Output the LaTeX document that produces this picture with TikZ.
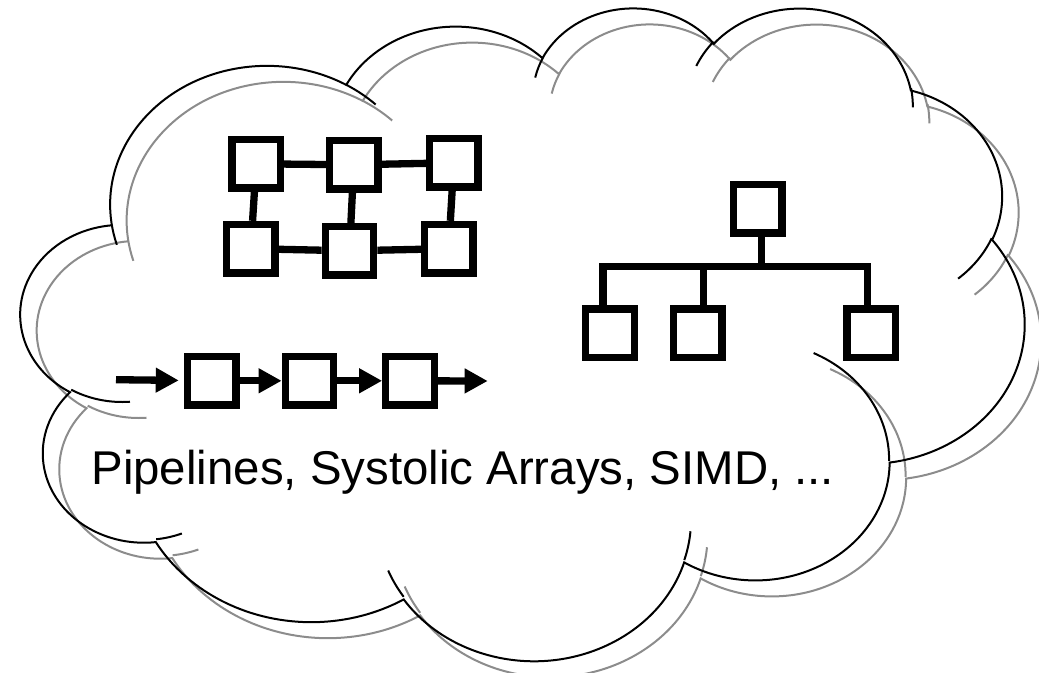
\documentclass[tikz,border=0pt]{standalone}
\usepackage{fontspec}
\usepackage{xcolor}
\usepackage{tikz}
\usetikzlibrary{arrows.meta}
\newfontfamily\labelfont{Liberation Sans}
\definecolor{blackmain}{HTML}{000000}
\definecolor{shadowgray}{HTML}{8C8C8C}
\tikzset{
  pe/.style={draw=blackmain,line width=3.65pt,minimum size=24.2pt,inner sep=0pt},
  wire/.style={blackmain,line width=3.65pt},
  pipe/.style={blackmain,line width=3.65pt,-{Triangle[length=11.5pt,width=11.75pt]}}
}
% one PowerPoint arcTo: x radius, y radius, start angle, sweep (path units)
\newcommand\cloudarc[4]{arc[x radius=#1,y radius=#2,
  start angle={atan2(#1*sin(#3),#2*cos(#3))},
  delta angle={Mod(atan2(#1*sin(#3+#4),#2*cos(#3+#4))-atan2(#1*sin(#3),#2*cos(#3))+180,360)-180}]}
\newcommand\cloudpath{%
  (3900,14370) \cloudarc{6753}{9190}{-190.487}{123.781}
  \cloudarc{5333}{7267}{-144.102}{89.945}
  \cloudarc{4365}{5945}{-145.808}{99.723}
  \cloudarc{4857}{6595}{-130.986}{117.242}
  \cloudarc{5333}{7273}{-78.709}{109.027}
  \cloudarc{6775}{9220}{-46.267}{130.269}
  \cloudarc{5785}{7867}{0.625}{114.033}
  \cloudarc{6752}{9215}{22.452}{115.173}
  \cloudarc{7720}{10543}{66.243}{75.711}
  \cloudarc{4360}{5918}{85.058}{146.736}
  \cloudarc{4345}{5945}{113.171}{152.519}
  (4693,26177) \cloudarc{4345}{5945}{86.742}{26.430}
  (6928,34899) \cloudarc{4360}{5918}{73.603}{11.455}
  (16478,39090) \cloudarc{6752}{9215}{137.624}{14.081}
  (28827,34751) \cloudarc{6752}{9215}{6.453}{15.998}
  (34129,22954) \cloudarc{5785}{7867}{-70.292}{70.917}
  (41798,15354) \cloudarc{5333}{7273}{30.318}{27.752}
  (38324,5426) \cloudarc{4857}{6595}{-13.744}{14.864}
  (29078,3952) \cloudarc{4857}{6595}{-149.181}{18.185}
  (22141,4720) \cloudarc{4365}{5945}{-163.494}{17.618}
  (14000,5192) \cloudarc{6753}{9190}{-66.707}{12.0}
  (4127,15789) \cloudarc{6753}{9190}{-202.35}{11.86}}
\begin{document}
\begin{tikzpicture}[x=0.5pt,y=-0.5pt]
  \useasboundingbox (0,0) rectangle (1039,673);
  % cloud: shadow first, outline on top, both in 43200-unit shape space
  \begin{scope}[shift={(37.5,22.3)},x=0.011618pt,y=-0.0075579pt]
    \draw[shadowgray,line width=1pt] \cloudpath;
  \end{scope}
  \begin{scope}[shift={(21,6.3)},x=0.011618pt,y=-0.0075579pt]
    \draw[blackmain,line width=1pt] \cloudpath;
  \end{scope}

  % mesh
  \node[pe] (m1) at (256.2,163.8) {};
  \node[pe] (m2) at (353.8,164.8) {};
  \node[pe] (m3) at (453.8,162.8) {};
  \node[pe] (m4) at (250.8,248.7) {};
  \node[pe] (m5) at (349.5,250.8) {};
  \node[pe] (m6) at (448.7,248.7) {};
  \draw[wire] (m1)--(m2); \draw[wire] (m2)--(m3);
  \draw[wire] (m4)--(m5); \draw[wire] (m5)--(m6);
  \draw[wire] (m1)--(m4); \draw[wire] (m2)--(m5); \draw[wire] (m3)--(m6);

  % tree
  \node[pe] (root) at (757.8,208.8) {};
  \node[pe] (leaf1) at (610,333.3) {};
  \node[pe] (leaf2) at (697.8,333.3) {};
  \node[pe] (leaf3) at (871.3,333.3) {};
  \coordinate (busT) at (761.3,266.3);
  \coordinate (busL) at (603,266.3);
  \coordinate (busM) at (703.3,266.3);
  \coordinate (busR) at (867.2,266.3);
  \draw[wire,line cap=rect] (busL)--(busR);
  \draw[wire] (busT |- root.south)--(busT);
  \draw[wire] (busL)--(busL |- leaf1.north);
  \draw[wire] (busM)--(busM |- leaf2.north);
  \draw[wire] (busR)--(busR |- leaf3.north);

  % pipeline
  \coordinate (pin) at (116,379.7);
  \coordinate (pout) at (487.7,381);
  \node[pe] (stage1) at (211.8,380.8) {};
  \node[pe] (stage2) at (309.5,380.8) {};
  \node[pe] (stage3) at (410,380.8) {};
  \draw[pipe,shorten >=2.6pt] (pin)--(stage1);
  \draw[pipe] (stage1)--(stage2);
  \draw[pipe] (stage2)--(stage3);
  \draw[pipe] (stage3)--(pout);

  \node[anchor=base west,inner sep=0pt,font=\labelfont\fontsize{23.7}{28}\selectfont]
    (caption) at (91,485) {Pipelines, Systolic Arrays, SIMD, ...};
\end{tikzpicture}
\end{document}
